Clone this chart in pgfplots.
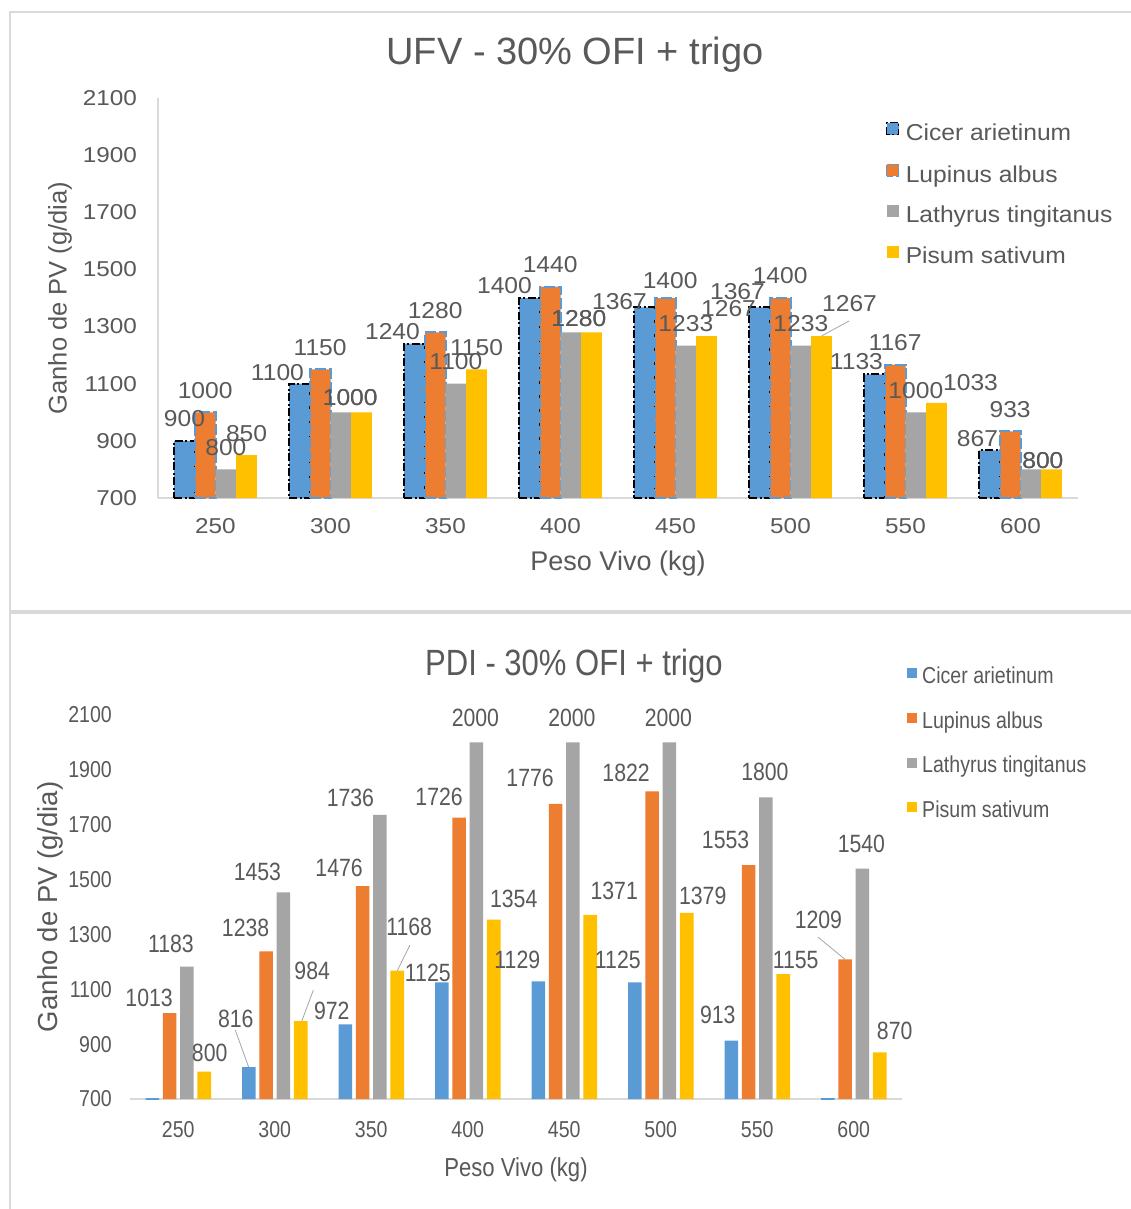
\documentclass[border=0pt]{standalone}
\usepackage{fontspec}
\usepackage{pgfplots}
\usepackage{pgfplotstable}
\pgfplotsset{compat=1.18}
\setmainfont{Liberation Sans}
\newfontfamily\ufvfont[FakeStretch=1.13]{Liberation Sans}
\newfontfamily\ufvfontb[FakeStretch=1.07]{Liberation Sans}
\newfontfamily\pdifont[FakeStretch=0.85]{Liberation Sans}

\newcommand\ufvTick{\ufvfont\fontsize{21.5pt}{26pt}\selectfont}
\newcommand\ufvData{\ufvfontb\fontsize{23pt}{27pt}\selectfont}
\newcommand\ufvLegend{\ufvfontb\fontsize{23pt}{27pt}\selectfont}
\newcommand\ufvTitle{\fontsize{38pt}{44pt}\selectfont}
\newcommand\ufvXLabel{\fontsize{27pt}{32pt}\selectfont}
\newcommand\ufvYLabel{\fontsize{25.5pt}{30pt}\selectfont}
\newcommand\pdiTick{\pdifont\fontsize{23pt}{27pt}\selectfont}
\newcommand\pdiData{\pdifont\fontsize{25pt}{30pt}\selectfont}
\newcommand\pdiLegend{\pdifont\fontsize{23pt}{27pt}\selectfont}
\newcommand\pdiTitle{\pdifont\fontsize{36.5pt}{42pt}\selectfont}
\newcommand\pdiXLabel{\pdifont\fontsize{26pt}{31pt}\selectfont}
\newcommand\pdiYLabel{\fontsize{27.5pt}{32pt}\selectfont}

\definecolor{cBlue}{HTML}{5B9BD5}
\definecolor{cOrange}{HTML}{ED7D31}
\definecolor{cGrey}{HTML}{A5A5A5}
\definecolor{cYellow}{HTML}{FFC000}
\definecolor{txt}{HTML}{595959}
\definecolor{axl}{HTML}{D9D9D9}
\definecolor{lead}{HTML}{A6A6A6}

% Weight gain (g/day) per live weight class; dx/dy nudge the value labels (pt)
\pgfplotstableread{
x y dx dy
0 900 0 0
1 1100 -22 11
2 1240 -22 10
3 1400 -25 10
4 1367 -25 16
5 1367 -22 6
6 1133 -18 9
7 867 -12 10
}\ufvCicer
\pgfplotstableread{
x y dx dy
0 1000 0 0
1 1150 0 0
2 1280 0 0
3 1440 0 0
4 1400 5 5
5 1400 0 0
6 1167 0 0
7 933 0 0
}\ufvLupinus
\pgfplotstableread{
x y dx dy
0 800 0 0
1 1000 9.35 7
2 1100 0 0
3 1280 8 8
4 1233 0 0
5 1233 0 0
6 1000 0 0
7 800 12 13
}\ufvLathyrus
\pgfplotstableread{
x y dx dy
0 850 0 0
1 1000 -11.35 7
2 1150 0 0
3 1280 -12.7 8
4 1267 22 -5
5 1267 28 -10
6 1033 34 2
7 800 -8.7 13
}\ufvPisum

% Cicer at 250 and 600 kg lies at the axis floor (no value shown)
\pgfplotstableread{
x y dx dy
1 816 -13 -27
2 972 -13.5 7.5
3 1125 -14 11.6
4 1129 -21 0
5 1125 -17 -2
6 913 -13.5 -4.6
}\pdiCicer
\pgfplotstableread{
x y
0 700
7 700
}\pdiCicerFloor
\pgfplotstableread{
x y dx dy
0 1013 -20.5 6
1 1238 -20.5 -3
2 1476 -23.5 3
3 1726 -20 0
4 1776 -25.5 -5
5 1822 -26 3
6 1553 -23 -4
7 1209 -26.7 -18.4
}\pdiLupinus
\pgfplotstableread{
x y dx dy
0 1183 -16 -2
1 1453 -26 0
2 1736 -29.5 4
3 2000 -1 -4
4 2000 -1 -4
5 2000 -1 -4
6 1800 -1 -4
7 1540 -1 -4
}\pdiLathyrus
\pgfplotstableread{
x y dx dy
0 800 5.5 2
1 984 11.5 -29
2 1168 12 -22.6
3 1354 20 0
4 1371 24 -3
5 1379 16 4
6 1155 12.5 7
7 870 15 0
}\pdiPisum

\pgfplotsset{
  gainbars/.style={
    scale only axis, clip=false,
    xmin=-0.5, xmax=7.5, ymin=0, ymax=1400,
    axis lines=left,
    axis line style={-, draw=axl, line width=1.5pt},
    major tick length=0pt, tick style={draw=none},
    xtick={0,...,7},
    xticklabels={250,300,350,400,450,500,550,600},
    ytick={0,200,...,1400},
    yticklabels={700,900,1100,1300,1500,1700,1900,2100},
    y filter/.expression={y-700},
    ybar=0pt,
    legend cell align=left,
    xlabel={Peso Vivo (kg)}, ylabel={Ganho de PV (g/dia)},
  },
  % value label above each bar, nudged by the dx/dy columns
  vlabels/.style={
    point meta=\thisrow{y},
    visualization depends on=\thisrow{dx}\as\dx,
    visualization depends on=\thisrow{dy}\as\dy,
    nodes near coords={\pgfmathprintnumber[fixed,precision=0,1000 sep={},assume math mode=true]{\pgfplotspointmeta}},
    nodes near coords style={anchor=center, inner sep=0pt,
      xshift={\dx*1pt}, yshift={(#1-\dy)*1pt}},
  },
}

\begin{document}
\begin{tikzpicture}[x=1pt,y=1pt]
\path[use as bounding box, fill=white] (0,0) rectangle (1131,-1209);
\draw[axl, line width=2pt] (10,-1209) -- (10,-12) -- (1131,-12);
\draw[axl, line width=4pt] (10,-612) -- (1131,-612);

% ---------- UFV ----------
\begin{axis}[gainbars,
  at={(158pt,-498pt)}, anchor=south west,
  width=920pt, height=400pt,
  bar width=20.7pt,
  ticklabel style={text=txt, font=\ufvTick},
  yticklabel style={anchor=east, inner sep=0pt, xshift=-21pt},
  xticklabel style={anchor=north, inner sep=0pt, yshift=-20pt},
  nodes near coords style={font=\ufvData, text=txt},
  title={UFV - 30\% OFI + trigo},
  every axis title/.style={at={(axis description cs:0.4533,1.0825)}, anchor=base, font=\ufvTitle, text=txt},
  every axis x label/.style={at={(axis description cs:0.5,-0.18)}, anchor=base, font=\ufvXLabel, text=txt},
  every axis y label/.style={at={(axis description cs:-0.1065,0.5)}, rotate=90, anchor=center, font=\ufvYLabel, text=txt},
  legend style={at={(rel axis cs:0.7913,0.94)}, anchor=north west, draw=none, fill=none,
    font=\ufvLegend, text=txt, row sep=17.7pt, inner sep=0pt,
    nodes={inner sep=0pt, text height=17pt, text depth=5pt}},
  legend image code/.code={\path[#1, line width=1.2pt] (0pt,0pt) rectangle (12pt,12pt); \path (18pt,0pt);},
]
\addplot[fill=cBlue, draw=black, line width=2pt, dash pattern=on 8pt off 2.5pt on 2pt off 2.5pt, bar shift=-31.05pt, vlabels=22]
  table[x=x,y=y] {\ufvCicer};
\addplot[fill=cOrange, draw=cBlue, line width=2pt, dash pattern=on 11pt off 3pt, bar shift=-10.35pt, vlabels=22]
  table[x=x,y=y] {\ufvLupinus};
\addplot[fill=cGrey, draw=none, bar shift=10.35pt, vlabels=22]
  table[x=x,y=y] {\ufvLathyrus};
\addplot[fill=cYellow, draw=none, bar shift=31.05pt, vlabels=22]
  table[x=x,y=y] {\ufvPisum};
\legend{Cicer arietinum, Lupinus albus, Lathyrus tingitanus, Pisum sativum}
\draw[lead, line width=0.8pt] (axis cs:5.51,620) -- (axis cs:5.27,567);
\end{axis}

% ---------- PDI ----------
\begin{axis}[gainbars,
  at={(130pt,-1099pt)}, anchor=south west,
  width=772pt, height=384pt,
  bar width=13.6pt,
  y axis line style={draw=none},
  ticklabel style={text=txt, font=\pdiTick},
  yticklabel style={anchor=east, inner sep=0pt, xshift=-18pt},
  xticklabel style={anchor=north, inner sep=0pt, yshift=-22pt},
  nodes near coords style={font=\pdiData, text=txt},
  title={PDI - 30\% OFI + trigo},
  every axis title/.style={at={(axis description cs:0.575,1.1016)}, anchor=base, font=\pdiTitle, text=txt},
  every axis x label/.style={at={(axis description cs:0.5,-0.203)}, anchor=base, font=\pdiXLabel, text=txt},
  every axis y label/.style={at={(axis description cs:-0.1036,0.5)}, rotate=90, anchor=center, font=\pdiYLabel, text=txt},
  legend style={at={(rel axis cs:1.0065,1.122)}, anchor=north west, draw=none, fill=none,
    font=\pdiLegend, text=txt, row sep=24.7pt, inner sep=0pt,
    nodes={inner sep=0pt, text height=15pt, text depth=5pt}},
  legend image code/.code={\fill[#1] (0pt,0pt) rectangle (10pt,10pt); \path (15pt,0pt);},
]
\addplot[fill=cBlue, draw=none, bar shift=-25.95pt, vlabels=21]
  table[x=x,y=y] {\pdiCicer};
\addplot[fill=cOrange, draw=none, bar shift=-8.65pt, vlabels=21]
  table[x=x,y=y] {\pdiLupinus};
\addplot[fill=cGrey, draw=none, bar shift=8.65pt, vlabels=21]
  table[x=x,y=y] {\pdiLathyrus};
\addplot[fill=cYellow, draw=none, bar shift=25.95pt, vlabels=21]
  table[x=x,y=y] {\pdiPisum};
\legend{Cicer arietinum, Lupinus albus, Lathyrus tingitanus, Pisum sativum}
\addplot[bar shift=-25.95pt, draw=cBlue, line width=2pt, fill=none, forget plot]
  table[x=x,y=y] {\pdiCicerFloor};
\draw[lead, line width=0.8pt] (axis cs:0.59,252) -- (axis cs:0.73,116);
\draw[lead, line width=0.8pt] (axis cs:1.40,397) -- (axis cs:1.28,284);
\draw[lead, line width=0.8pt] (axis cs:2.40,561) -- (axis cs:2.27,468);
\draw[lead, line width=0.8pt] (axis cs:6.63,590) -- (axis cs:6.91,509);
\end{axis}
\end{tikzpicture}
\end{document}
